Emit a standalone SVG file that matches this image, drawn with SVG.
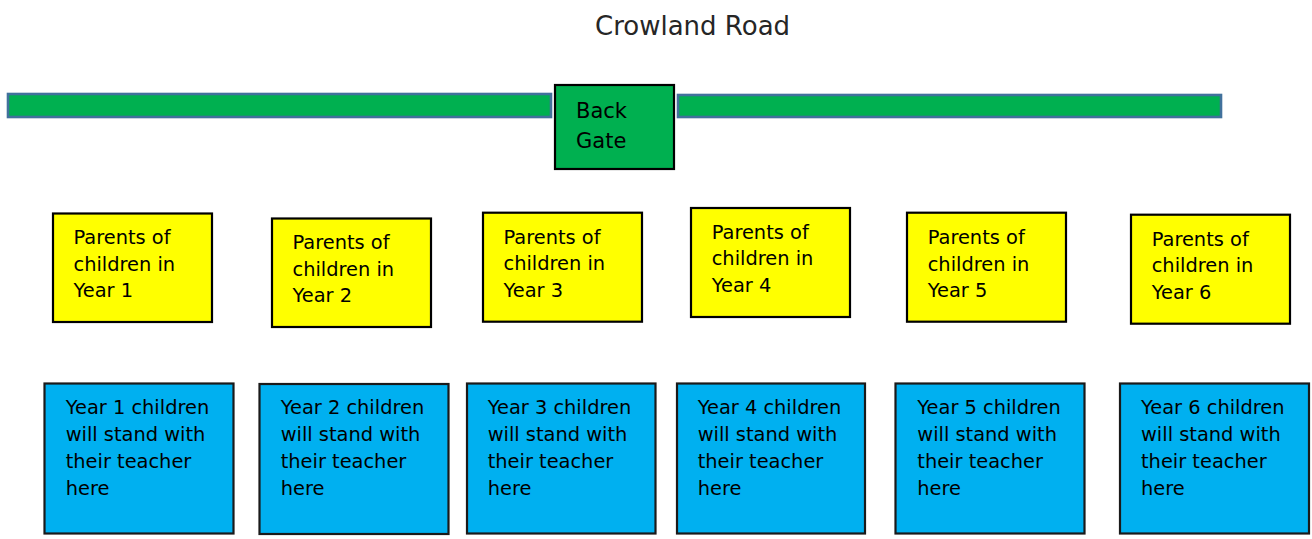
<svg xmlns="http://www.w3.org/2000/svg" width="1312" height="539" viewBox="0 0 1312 539">
<style>
text{font-family:"DejaVu Sans","Liberation Sans",sans-serif;fill:#000}
.t{font-size:19.4px}
.title{font-size:26px;fill:#262626}
.gate{font-size:21px}
.bar{fill:#00B050;stroke:#41719C;stroke-width:2.6}
.gbox{fill:#00B050;stroke:#000;stroke-width:2.2}
.y{fill:#FFFF00;stroke:#000;stroke-width:2.2}
.b{fill:#00B0F0;stroke:#1a1a1a;stroke-width:2.2}
</style>
<rect width="1312" height="539" fill="#fff"/>
<g id="title"><text class="title" x="595" y="35">Crowland Road</text></g>
<g id="fence-left"><rect class="bar" x="8" y="94" width="543" height="23"/></g>
<g id="fence-right"><rect class="bar" x="678" y="95" width="543" height="22"/></g>
<g id="back-gate"><rect class="gbox" x="555" y="85" width="119" height="84"/>
<text class="gate" x="576" y="118">Back</text><text class="gate" x="576" y="147.5">Gate</text></g>
<g id="parents-y1"><rect class="y" x="53" y="213.5" width="159" height="108.5"/>
<text class="t" x="73.5" y="244">Parents of</text><text class="t" x="73.5" y="270.7">children in</text><text class="t" x="73.5" y="297.4">Year 1</text></g>
<g id="parents-y2"><rect class="y" x="272" y="218.5" width="159" height="108.5"/>
<text class="t" x="292.5" y="249">Parents of</text><text class="t" x="292.5" y="275.7">children in</text><text class="t" x="292.5" y="302.4">Year 2</text></g>
<g id="parents-y3"><rect class="y" x="483" y="212.7" width="159" height="109"/>
<text class="t" x="503.5" y="243.5">Parents of</text><text class="t" x="503.5" y="270.2">children in</text><text class="t" x="503.5" y="296.9">Year 3</text></g>
<g id="parents-y4"><rect class="y" x="691" y="208" width="159" height="109"/>
<text class="t" x="711.7" y="238.5">Parents of</text><text class="t" x="711.7" y="265.2">children in</text><text class="t" x="711.7" y="291.9">Year 4</text></g>
<g id="parents-y5"><rect class="y" x="907" y="212.7" width="159" height="109"/>
<text class="t" x="927.7" y="244">Parents of</text><text class="t" x="927.7" y="270.7">children in</text><text class="t" x="927.7" y="297.4">Year 5</text></g>
<g id="parents-y6"><rect class="y" x="1131" y="214.7" width="159" height="109"/>
<text class="t" x="1151.7" y="245.7">Parents of</text><text class="t" x="1151.7" y="272.4">children in</text><text class="t" x="1151.7" y="299.1">Year 6</text></g>
<g id="children-y1"><rect class="b" x="44.5" y="383.5" width="189" height="150"/>
<text class="t" x="65.7" y="413.5">Year 1 children</text><text class="t" x="65.7" y="440.5">will stand with</text><text class="t" x="65.7" y="467.5">their teacher</text><text class="t" x="65.7" y="494.5">here</text></g>
<g id="children-y2"><rect class="b" x="259.5" y="384" width="189" height="150"/>
<text class="t" x="280.7" y="414">Year 2 children</text><text class="t" x="280.7" y="441">will stand with</text><text class="t" x="280.7" y="468">their teacher</text><text class="t" x="280.7" y="495">here</text></g>
<g id="children-y3"><rect class="b" x="467" y="383.5" width="188.5" height="150"/>
<text class="t" x="487.7" y="413.5">Year 3 children</text><text class="t" x="487.7" y="440.5">will stand with</text><text class="t" x="487.7" y="467.5">their teacher</text><text class="t" x="487.7" y="494.5">here</text></g>
<g id="children-y4"><rect class="b" x="677" y="383.5" width="188" height="150"/>
<text class="t" x="697.7" y="413.5">Year 4 children</text><text class="t" x="697.7" y="440.5">will stand with</text><text class="t" x="697.7" y="467.5">their teacher</text><text class="t" x="697.7" y="494.5">here</text></g>
<g id="children-y5"><rect class="b" x="895.5" y="383.5" width="189" height="150"/>
<text class="t" x="917.3" y="413.5">Year 5 children</text><text class="t" x="917.3" y="440.5">will stand with</text><text class="t" x="917.3" y="467.5">their teacher</text><text class="t" x="917.3" y="494.5">here</text></g>
<g id="children-y6"><rect class="b" x="1120" y="383.5" width="189" height="150"/>
<text class="t" x="1141" y="413.5">Year 6 children</text><text class="t" x="1141" y="440.5">will stand with</text><text class="t" x="1141" y="467.5">their teacher</text><text class="t" x="1141" y="494.5">here</text></g>
<g id="connectors"></g>
</svg>
